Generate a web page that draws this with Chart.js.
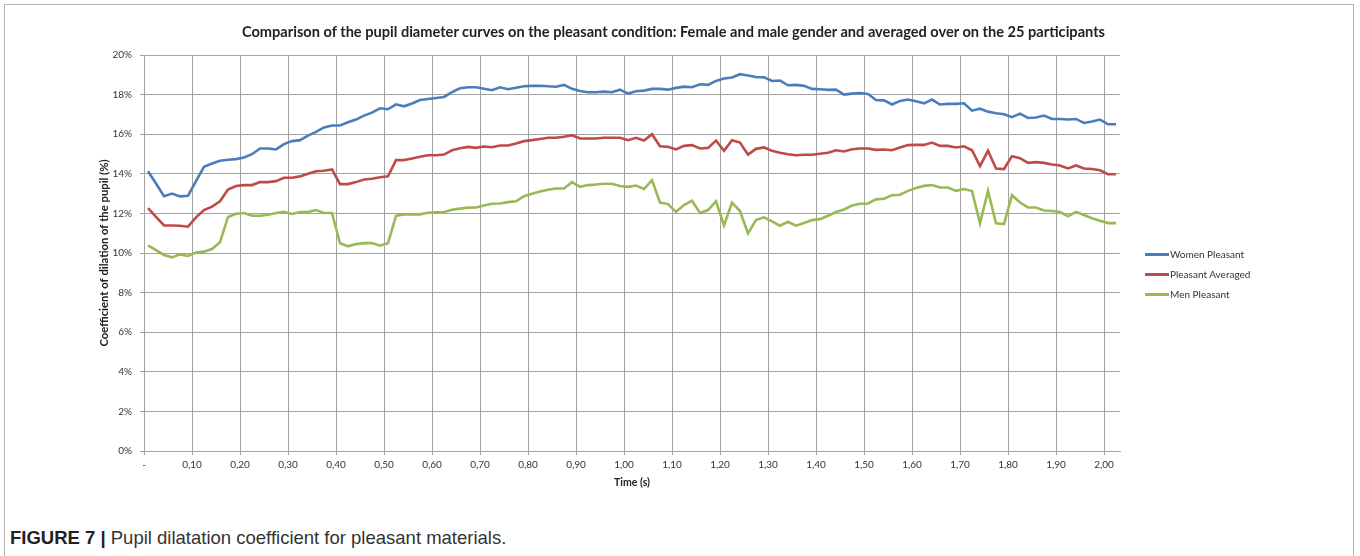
<!DOCTYPE html>
<html>
<head>
<meta charset="utf-8">
<script src="https://cdn.jsdelivr.net/npm/chart.js@4.4.1/dist/chart.umd.min.js"></script>
<style>
  html, body { margin: 0; padding: 0; background: #fff; }
  body { width: 1360px; height: 556px; position: relative; overflow: hidden; }
  .frame { position: absolute; left: 4px; top: 4px; width: 1350px; height: 600px; border: 1px solid #b4b4b4; box-sizing: border-box; }
  #chartWrap { position: absolute; left: 0; top: 0; width: 1360px; height: 500px; }
  .chart-title { position: absolute; left: 0; top: 23px; width: 1347px; text-align: center; font: bold 14.6px Lato, sans-serif; line-height: 18px; color: #222; white-space: nowrap; }
  .legend { position: absolute; left: 1145px; top: 244px; font: 10px Lato, sans-serif; color: #333; }
  .legend-item { display: flex; align-items: center; height: 20px; }
  .legend-swatch { width: 24px; height: 3px; margin-right: 1px; }
  .caption { position: absolute; left: 10px; top: 527px; font: 18.5px "Liberation Sans", Arial, sans-serif; line-height: 22px; color: #333; white-space: nowrap; }
  .caption b { color: #222; }
</style>
</head>
<body>
<div class="frame"></div>
<div id="chartWrap"><canvas id="pupilChart" width="1360" height="500"></canvas></div>
<div class="chart-title">Comparison of the pupil diameter curves on the pleasant condition: Female and male gender and averaged over on the 25 participants</div>
<div class="legend" id="legend"></div>
<div class="caption"><b>FIGURE 7 |</b> Pupil dilatation coefficient for pleasant materials.</div>
<script>
// samples every 1/60 s, values in %
const womenPleasant = [
  14.13, 13.51, 12.87, 13.0, 12.86, 12.89, 13.63, 14.35, 14.52, 14.66, 14.71, 14.74,
  14.82, 14.99, 15.28, 15.28, 15.23, 15.5, 15.65, 15.7, 15.93, 16.12, 16.34, 16.44,
  16.44, 16.6, 16.74, 16.94, 17.09, 17.31, 17.26, 17.51, 17.41, 17.55, 17.73, 17.78,
  17.83, 17.88, 18.13, 18.32, 18.37, 18.37, 18.3, 18.22, 18.37, 18.27, 18.35, 18.42,
  18.44, 18.45, 18.42, 18.4, 18.49, 18.29, 18.18, 18.12, 18.12, 18.15, 18.12, 18.25,
  18.05, 18.17, 18.2, 18.29, 18.29, 18.25, 18.34, 18.4, 18.37, 18.52, 18.49, 18.69,
  18.81, 18.86, 19.03, 18.96, 18.89, 18.87, 18.69, 18.71, 18.47, 18.49, 18.44, 18.29,
  18.27, 18.24, 18.25, 18.0, 18.05, 18.08, 18.03, 17.73, 17.71, 17.5, 17.68, 17.75,
  17.66, 17.56, 17.75, 17.5, 17.53, 17.53, 17.56, 17.19, 17.29, 17.14, 17.06, 17.01,
  16.86, 17.04, 16.82, 16.84, 16.94, 16.77, 16.77, 16.74, 16.77, 16.57, 16.64, 16.74,
  16.5, 16.5
];
const pleasantAveraged = [
  12.27, 11.83, 11.39, 11.39, 11.38, 11.33, 11.8, 12.17, 12.34, 12.61, 13.21, 13.38,
  13.43, 13.43, 13.58, 13.58, 13.63, 13.8, 13.8, 13.87, 14.0, 14.13, 14.15, 14.22,
  13.48, 13.48, 13.58, 13.71, 13.75, 13.83, 13.87, 14.69, 14.69, 14.77, 14.86, 14.94,
  14.94, 14.97, 15.19, 15.29, 15.36, 15.31, 15.38, 15.34, 15.43, 15.43, 15.53, 15.65,
  15.7, 15.76, 15.82, 15.82, 15.87, 15.95, 15.78, 15.78, 15.78, 15.82, 15.82, 15.82,
  15.7, 15.82, 15.68, 16.0, 15.39, 15.36, 15.23, 15.41, 15.45, 15.28, 15.31, 15.68,
  15.16, 15.7, 15.58, 14.97, 15.26, 15.33, 15.16, 15.06, 14.99, 14.94, 14.96, 14.96,
  15.01, 15.06, 15.19, 15.13, 15.24, 15.28, 15.28, 15.21, 15.23, 15.19, 15.33, 15.45,
  15.46, 15.46, 15.58, 15.41, 15.41, 15.33, 15.39, 15.19, 14.39, 15.16, 14.27, 14.24,
  14.89, 14.79, 14.55, 14.59, 14.55, 14.47, 14.42, 14.27, 14.42, 14.27, 14.24, 14.18,
  13.98, 13.98
];
const menPleasant = [
  10.39, 10.15, 9.9, 9.78, 9.93, 9.85, 10.02, 10.07, 10.2, 10.54, 11.82, 11.98,
  12.02, 11.88, 11.88, 11.93, 12.02, 12.08, 11.97, 12.07, 12.07, 12.17, 12.02, 12.02,
  10.49, 10.34, 10.45, 10.5, 10.5, 10.37, 10.49, 11.88, 11.95, 11.95, 11.95, 12.03,
  12.05, 12.07, 12.18, 12.24, 12.29, 12.3, 12.4, 12.49, 12.5, 12.57, 12.61, 12.87,
  12.99, 13.11, 13.19, 13.26, 13.26, 13.58, 13.34, 13.43, 13.46, 13.5, 13.5, 13.38,
  13.34, 13.41, 13.23, 13.68, 12.55, 12.47, 12.08, 12.42, 12.64, 12.02, 12.17, 12.61,
  11.39, 12.54, 12.12, 10.99, 11.66, 11.8, 11.6, 11.38, 11.58, 11.38, 11.52, 11.66,
  11.71, 11.88, 12.07, 12.2, 12.4, 12.49, 12.5, 12.71, 12.74, 12.92, 12.94, 13.14,
  13.28, 13.39, 13.43, 13.31, 13.31, 13.14, 13.23, 13.13, 11.5, 13.14, 11.5, 11.46,
  12.92, 12.55, 12.3, 12.3, 12.15, 12.12, 12.07, 11.85, 12.08, 11.92, 11.76, 11.63,
  11.51, 11.51
];
const xTickLabels = ['-', '0,10', '0,20', '0,30', '0,40', '0,50', '0,60', '0,70', '0,80', '0,90', '1,00',
  '1,10', '1,20', '1,30', '1,40', '1,50', '1,60', '1,70', '1,80', '1,90', '2,00'];
const seriesNames = ['Women Pleasant', 'Pleasant Averaged', 'Men Pleasant'];
const seriesColors = ['#4a7ebb', '#be4b48', '#98b954'];
const SAMPLES_PER_TICK = 6;

(function () {
  const gridColor = '#a3a3a3';
  const textColor = '#333';
  const labels = womenPleasant.map((_, i) => i);
  const allSeries = [womenPleasant, pleasantAveraged, menPleasant];

  const datasets = allSeries.map((data, i) => ({
    label: seriesNames[i],
    data,
    borderColor: seriesColors[i],
    backgroundColor: seriesColors[i],
    borderWidth: 2.6,
    pointRadius: 0,
    tension: 0,
    fill: false
  }));

  new Chart(document.getElementById('pupilChart'), {
    type: 'line',
    data: { labels, datasets },
    options: {
      responsive: false,
      animation: false,
      layout: { padding: { left: 88, right: 240, top: 55, bottom: 0 } },
      plugins: {
        legend: { display: false },
        tooltip: { enabled: false }
      },
      scales: {
        x: {
          type: 'category',
          offset: true,
          afterFit: (scale) => { scale.height = 49; },
          grid: {
            offset: true,
            tickLength: 4,
            color: (ctx) => (ctx.index % SAMPLES_PER_TICK === 0 ? gridColor : 'rgba(0,0,0,0)')
          },
          border: { display: true, color: gridColor },
          ticks: {
            autoSkip: false,
            maxRotation: 0,
            labelOffset: -4,
            padding: 4,
            color: textColor,
            font: { family: 'Lato', size: 10 },
            callback: (value, index) => (index % SAMPLES_PER_TICK === 0 ? xTickLabels[index / SAMPLES_PER_TICK] : '')
          },
          title: {
            display: true,
            text: 'Time (s)',
            color: '#222',
            font: { family: 'Lato', size: 10.5, weight: 'bold', lineHeight: 1.2 },
            padding: { top: 0, bottom: 11 }
          }
        },
        y: {
          min: 0,
          max: 20,
          afterFit: (scale) => { scale.width = 56; },
          grid: { color: gridColor, tickLength: 4 },
          border: { display: true, color: gridColor },
          ticks: {
            stepSize: 2,
            padding: 8,
            color: textColor,
            font: { family: 'Lato', size: 10 },
            callback: (value) => `${value}%`
          },
          title: {
            display: true,
            text: 'Coefficient of dilation of the pupil (%)',
            color: '#222',
            font: { family: 'Lato', size: 11.3, weight: 'bold', lineHeight: 1.2 },
            padding: { top: 10, bottom: 0 }
          }
        }
      }
    }
  });

  const legend = document.getElementById('legend');
  legend.innerHTML = seriesNames.map((name, i) => `
    <div class="legend-item"><span class="legend-swatch" style="background:${seriesColors[i]}"></span>${name}</div>`).join('');
})();
</script>
</body>
</html>
